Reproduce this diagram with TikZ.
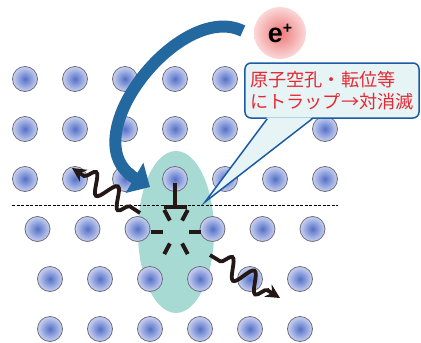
\documentclass[tikz,border=0pt]{standalone}
\usepackage{fontspec}
\setmainfont{Liberation Sans}
\newfontfamily\jpfont{Noto Sans CJK JP}
\usetikzlibrary{arrows.meta}
\usetikzlibrary{decorations.pathmorphing}
\usetikzlibrary{shapes.geometric}
\usetikzlibrary{calc}
\definecolor{atomin}{RGB}{84,112,198}
\definecolor{atomout}{RGB}{202,210,242}
\definecolor{atomline}{RGB}{110,110,120}
\definecolor{zonecol}{RGB}{168,218,212}
\definecolor{posarrow}{RGB}{36,104,160}
\definecolor{msgfill}{RGB}{230,244,246}
\definecolor{msgline}{RGB}{28,90,166}
\definecolor{msgred}{RGB}{230,40,50}
\definecolor{posin}{RGB}{236,118,118}
\definecolor{posout}{RGB}{251,216,216}
\definecolor{ink}{RGB}{35,24,21}

\tikzset{
  atom/.style={circle, minimum size=25bp, inner sep=0pt, draw=atomline, line width=0.8bp,
    shading=radial, inner color=atomin, outer color=atomout},
  gamma/.style={draw=ink, line width=3.8bp, -{Stealth[length=14bp,width=14bp]},
    decorate, decoration={snake, amplitude=10bp, segment length=26bp, pre length=12bp, post length=12bp}},
  defect/.style={ink, line width=4bp},
  msgbox/.style={rectangle, rounded corners=6bp, fill=msgfill, draw=msgline, line width=1.5bp,
    minimum width=174bp, minimum height=55bp, align=left, text=msgred, inner sep=0pt,
    font=\jpfont\fontsize{18.2}{22}\selectfont}
}

\begin{document}
\begin{tikzpicture}[x=1bp, y=-1bp]
  \useasboundingbox (0,0) rectangle (421,343);

  % trapping region
  \node[ellipse, fill=zonecol, minimum width=76bp, minimum height=162bp, inner sep=0pt] (zone) at (176,232) {};

  % slip plane
  \coordinate (slipl) at (12,205);
  \coordinate (slipr) at (338,205);
  \draw[line width=0.7bp, dash pattern=on 3bp off 1.5bp] (slipl) -- (slipr);

  % lattice
  \foreach \y [count=\r] in {79,129,179}
    \foreach \x [count=\i] in {25,75,...,325}
      \node[atom] (a\r-\i) at (\x,\y) {};
  \foreach \x [count=\i] in {37.5,87.5,137.5,212.5,262.5,312.5}
    \node[atom] (a4-\i) at (\x,229) {};
  \foreach \y [count=\r from 5] in {279,329}
    \foreach \x [count=\i] in {50,100,...,300}
      \node[atom] (a\r-\i) at (\x,\y) {};

  % edge dislocation and vacancy
  \coordinate (disl) at (175,207);
  \coordinate (vac) at (176,232);
  \draw[defect] (disl) -- ++(0,-24);
  \draw[defect] ($(disl)+(-11.5,0)$) -- ($(disl)+(11.5,0)$);
  \foreach \a in {0,62,118,180,242,298}
    \draw[defect] ($(vac)+(\a:13)$) -- ($(vac)+(\a:25)$);

  % annihilation gamma rays
  \coordinate (g1s) at (140,213);
  \coordinate (g1e) at (72,168);
  \coordinate (g2s) at (210,255);
  \coordinate (g2e) at (280,298);
  \draw[gamma] (g1s) -- (g1e);
  \draw[gamma] (g2s) -- (g2e);

  % positron and its path
  \node[circle, minimum size=52bp, inner sep=0pt, shading=radial, inner color=posin, outer color=posout]
    (pos) at (280,33) {\fontsize{27}{27}\selectfont\bfseries e\raisebox{9bp}{\fontsize{16}{16}\selectfont +}};
  \coordinate (arrs) at ($(pos.west)+(-11,-2)$);
  \coordinate (arre) at (150,187);
  \draw[posarrow, line width=12bp, -{Triangle[length=18bp,width=34bp]}]
    (arrs) .. controls (180,0) and (70,140) .. (arre);

  % callout
  \node[msgbox] (msg) at (332,90.5) {原子空孔・転位等\\にトラップ→対消滅};
  \coordinate (tip) at (205,202);
  \fill[msgfill] ($(msg.south west)+(23,-1.5)$) -- (tip) -- ($(msg.south west)+(68,-1.5)$) -- cycle;
  \draw[msgline, line width=1.5bp, line join=miter] ($(msg.south west)+(23,0)$) -- (tip) -- ($(msg.south west)+(68,0)$);
\end{tikzpicture}
\end{document}
